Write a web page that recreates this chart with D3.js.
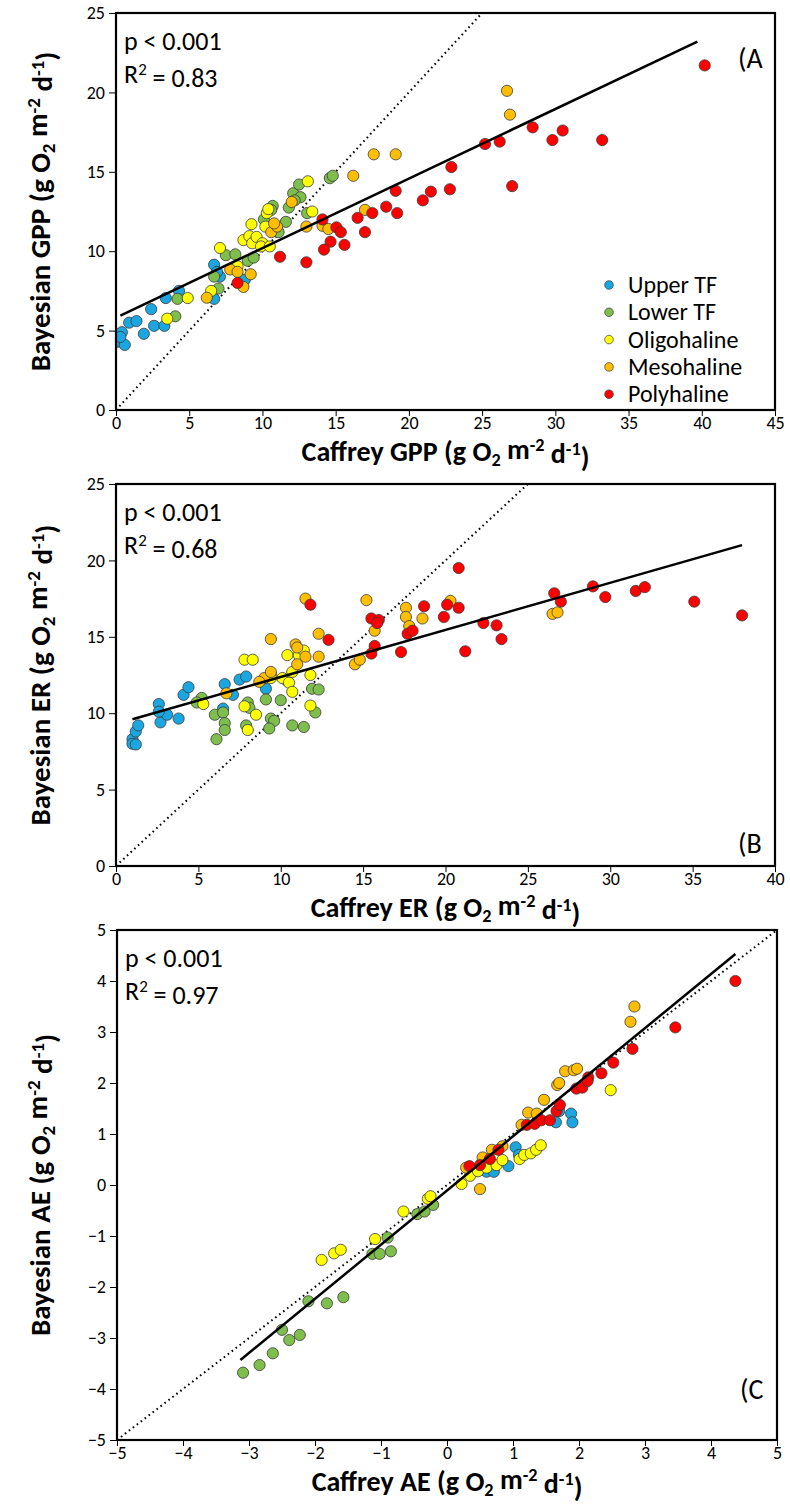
<!DOCTYPE html>
<html><head><meta charset="utf-8">
<script src="https://cdn.jsdelivr.net/npm/d3@7"></script>
<style>
body{margin:0;background:#fff}
text{font-family:Carlito,Calibri,Lato,"Open Sans",sans-serif;fill:#000}
</style>
</head><body>
<svg id="chart" width="790" height="1505"></svg>
<script>
// ---------- DATA ----------
const groups = ["Upper TF","Lower TF","Oligohaline","Mesohaline","Polyhaline"];
const fills  = ["#1AA7E1","#7DBE4C","#FFFF00","#FFBF00","#FF0000"];

const gppUpper = [[0.1,4.3],[0.4,4.9],[0.6,4.1],[0.3,4.6],[0.9,5.5],[1.4,5.6],[1.9,4.8],[2.4,6.35],[2.6,5.3],[3.3,5.3],[3.4,7.05],[4.3,7.5],[6.7,7.0],[6.7,9.15],[7.1,8.4],[8.8,8.2],[6.9,8.7]];
const gppLower = [[4.2,7.0],[4.05,5.9],[7.0,7.65],[6.7,8.4],[7.5,9.75],[8.15,9.8],[9.0,9.4],[9.4,9.6],[10.1,12.0],[10.7,12.85],[10.6,12.6],[11.6,11.85],[11.8,12.75],[12.1,13.65],[12.5,14.2],[12.6,13.4],[12.2,13.2],[13.05,12.4],[14.6,14.6],[14.8,14.75],[11.1,11.2]];
const gppOligo = [[4.9,7.05],[3.5,5.75],[6.5,7.5],[7.1,10.2],[8.7,10.7],[9.1,10.95],[9.3,10.5],[9.25,11.7],[9.6,10.9],[10.0,10.5],[9.9,10.3],[10.5,10.3],[10.3,12.4],[10.4,12.65],[10.2,11.55],[13.1,14.4],[13.4,12.5],[8.3,9.05]];
const gppMeso  = [[6.2,7.07],[7.8,8.85],[8.3,8.7],[8.7,7.75],[9.2,8.55],[10.6,11.2],[11.0,11.55],[10.8,11.75],[12.0,13.1],[13.0,11.55],[14.1,11.6],[14.5,11.4],[16.2,14.75],[17.6,16.1],[19.1,16.1],[17.0,12.6],[26.7,20.1],[26.9,18.6]];
const gppPoly  = [[8.3,8.0],[11.2,9.65],[13.0,9.3],[14.1,12.0],[15.05,11.5],[15.35,11.2],[14.65,10.6],[14.2,10.1],[15.6,10.4],[16.5,12.1],[17.5,12.4],[17.0,11.2],[18.45,12.8],[19.1,13.8],[19.2,12.4],[20.95,13.2],[21.5,13.75],[22.8,13.9],[22.9,15.3],[25.2,16.75],[26.2,16.9],[27.05,14.1],[28.45,17.8],[29.8,17.0],[30.5,17.6],[33.2,17.0],[40.2,21.7]];
const gppFit   = [[0.3,5.95],[39.7,23.2]];

const erUpper = [[1.0,8.3],[1.0,8.0],[1.2,7.95],[1.2,8.8],[1.35,9.2],[2.6,10.6],[2.7,9.4],[3.1,9.9],[2.6,10.1],[3.8,9.65],[4.1,11.2],[4.4,11.7],[6.5,10.3],[6.6,11.9],[7.1,11.2],[7.5,12.2],[7.9,12.4],[9.1,11.6]];
const erLower = [[5.2,11.0],[4.9,10.7],[6.1,8.3],[6.0,9.9],[6.5,10.05],[6.6,9.35],[6.6,8.9],[8.0,10.7],[8.1,10.35],[7.9,9.2],[9.1,10.9],[9.4,9.65],[9.6,9.5],[9.3,9.0],[10.0,10.85],[10.4,12.1],[10.7,9.2],[11.4,9.1],[11.9,11.6],[12.3,11.55],[12.1,10.05]];
const erOligo = [[5.3,10.6],[7.8,13.5],[8.3,13.5],[7.8,10.45],[8.5,9.9],[8.0,8.9],[9.4,12.55],[9.4,12.3],[10.1,12.3],[10.4,13.8],[10.5,12.0],[10.7,11.4],[10.7,12.7],[11.1,13.8],[11.4,14.1],[11.8,12.5],[11.8,10.5]];
const erMeso  = [[6.7,11.3],[9.0,12.3],[8.7,12.05],[9.4,12.7],[9.4,14.85],[10.9,14.5],[11.0,14.3],[11.0,13.2],[11.5,13.7],[12.3,15.2],[12.3,13.7],[11.5,17.5],[15.2,17.4],[15.7,15.4],[14.5,13.2],[14.8,13.5],[17.6,16.9],[17.6,16.3],[17.8,15.7],[18.6,16.2],[20.3,17.35],[26.5,16.5],[26.8,16.6]];
const erPoly  = [[11.8,17.1],[12.9,14.8],[15.5,16.2],[15.95,16.1],[15.85,15.9],[15.7,14.4],[15.5,13.9],[17.7,15.2],[18.0,15.4],[17.3,14.0],[18.7,17.0],[19.9,16.3],[20.1,17.1],[20.8,19.5],[20.8,16.9],[22.3,15.9],[23.1,15.75],[23.4,14.85],[21.2,14.05],[26.6,17.85],[27.0,17.3],[28.95,18.3],[29.7,17.6],[31.55,18.0],[32.1,18.25],[35.1,17.3],[38.0,16.4]];
const erFit   = [[1.0,9.6],[38.0,21.0]];

const aeUpper = [[0.6,0.26],[0.71,0.26],[0.93,0.37],[1.04,0.74],[1.09,0.59],[1.65,1.23],[1.7,1.45],[1.88,1.4],[1.9,1.23]];
const aeLower = [[-3.09,-3.68],[-2.84,-3.53],[-2.64,-3.30],[-2.5,-2.84],[-2.39,-3.04],[-2.23,-2.94],[-2.1,-2.28],[-1.82,-2.32],[-1.57,-2.2],[-1.13,-1.35],[-1.02,-1.35],[-0.85,-1.3],[-0.9,-1.03],[-0.45,-0.57],[-0.34,-0.52],[-0.21,-0.39]];
const aeOligo = [[-1.9,-1.47],[-1.71,-1.34],[-1.61,-1.27],[-1.09,-1.06],[-0.66,-0.52],[-0.29,-0.27],[-0.25,-0.22],[0.22,0.02],[0.35,0.18],[0.47,0.27],[0.6,0.34],[0.75,0.39],[0.84,0.49],[1.1,0.51],[1.17,0.59],[1.27,0.62],[1.35,0.69],[1.42,0.78],[2.48,1.86]];
const aeMeso  = [[0.5,-0.08],[0.29,0.34],[0.54,0.54],[0.68,0.69],[0.84,0.76],[1.13,1.18],[1.23,1.42],[1.36,1.4],[1.47,1.67],[1.67,1.96],[1.7,2.0],[1.79,2.23],[1.92,2.25],[1.97,2.28],[2.78,3.2],[2.84,3.5]];
const aePoly  = [[0.34,0.37],[0.5,0.39],[0.65,0.51],[0.78,0.69],[1.21,1.18],[1.33,1.2],[1.43,1.27],[1.56,1.27],[1.66,1.45],[1.71,1.57],[1.96,1.89],[2.05,1.91],[2.14,2.11],[2.13,2.04],[2.34,2.19],[2.52,2.4],[2.81,2.67],[3.46,3.09],[4.37,4.0]];
const aeFit   = [[-3.13,-3.43],[4.37,4.53]];

const gppXTicks = [0,5,10,15,20,25,30,35,40,45];
const gppYTicks = [0,5,10,15,20,25];
const erXTicks  = [0,5,10,15,20,25,30,35,40];
const erYTicks  = [0,5,10,15,20,25];
const aeTicks   = [-5,-4,-3,-2,-1,0,1,2,3,4,5];

const panels = [
  {id:"A", series:[gppUpper,gppLower,gppOligo,gppMeso,gppPoly], fit:gppFit, xd:[0,45], yd:[0,25], xt:gppXTicks, yt:gppYTicks,
   var:"GPP", r2:"0.83", box:{l:116,r:775,t:13,b:410}, legend:true, tag:"(A", tagY:d=>d.t+55},
  {id:"B", series:[erUpper,erLower,erOligo,erMeso,erPoly], fit:erFit, xd:[0,40], yd:[0,25], xt:erXTicks, yt:erYTicks,
   var:"ER", r2:"0.68", box:{l:116,r:775,t:484,b:866}, legend:false, tag:"(B", tagY:d=>d.b-13},
  {id:"C", series:[aeUpper,aeLower,aeOligo,aeMeso,aePoly], fit:aeFit, xd:[-5,5], yd:[-5,5], xt:aeTicks, yt:aeTicks,
   var:"AE", r2:"0.97", box:{l:117,r:777,t:930,b:1440}, legend:false, tag:"(C", tagY:(d,y)=>y(-4)+10}
];

const tickFont = 18, titleFont = 28, statFont = 26, legendFont = 24, tagFont = 28;

// ---------- DRAW ----------
const svg = d3.select("#chart");

function unitLabel(sel, prefix){
  sel.append("tspan").text(prefix + " (g O");
  sel.append("tspan").attr("font-size","0.65em").attr("dy","0.25em").text("2");
  sel.append("tspan").attr("dy","-0.25em").text(" m");
  sel.append("tspan").attr("font-size","0.65em").attr("dy","-0.42em").text("-2");
  sel.append("tspan").attr("dy","0.42em").text(" d");
  sel.append("tspan").attr("font-size","0.65em").attr("dy","-0.42em").text("-1");
  sel.append("tspan").attr("dy","0.42em").text(")");
}

panels.forEach(p => {
  const b = p.box;
  const x = d3.scaleLinear().domain(p.xd).range([b.l,b.r]);
  const y = d3.scaleLinear().domain(p.yd).range([b.b,b.t]);
  const g = svg.append("g");

  const clipId = "clip"+p.id;
  svg.append("clipPath").attr("id",clipId).append("rect")
    .attr("x",b.l).attr("y",b.t).attr("width",b.r-b.l).attr("height",b.b-b.t);

  // axes
  const xa = g.append("g").attr("transform",`translate(0,${b.b})`)
    .call(d3.axisBottom(x).tickValues(p.xt).tickSize(6).tickSizeOuter(0).tickPadding(0).tickFormat(d3.format("d")));
  const ya = g.append("g").attr("transform",`translate(${b.l},0)`)
    .call(d3.axisLeft(y).tickValues(p.yt).tickSize(7).tickSizeOuter(0).tickPadding(4).tickFormat(d3.format("d")));
  [xa,ya].forEach(a=>{
    a.select(".domain").remove();
    a.selectAll(".tick line").attr("stroke","#000").attr("stroke-width",1);
    a.selectAll(".tick text").attr("font-size",tickFont).attr("fill","#000")
      .style("font-family",'Carlito,Calibri,Lato,"Open Sans",sans-serif');
  });

  // 1:1 line
  const inner = g.append("g").attr("clip-path",`url(#${clipId})`);
  const lo = Math.max(p.xd[0],p.yd[0]), hi = Math.min(p.xd[1],p.yd[1]);
  inner.append("line").attr("x1",x(lo)).attr("y1",y(lo)).attr("x2",x(hi)).attr("y2",y(hi))
    .attr("stroke","#000").attr("stroke-width",2).attr("stroke-dasharray","1.6,3.4");

  // points
  p.series.forEach((s,i)=>{
    inner.append("g").selectAll("circle").data(s).join("circle")
      .attr("cx",d=>x(d[0])).attr("cy",d=>y(d[1])).attr("r",5.6)
      .attr("fill",fills[i]).attr("stroke","#3a3a3a").attr("stroke-width",0.8);
  });

  // regression line
  inner.append("line").attr("x1",x(p.fit[0][0])).attr("y1",y(p.fit[0][1]))
    .attr("x2",x(p.fit[1][0])).attr("y2",y(p.fit[1][1]))
    .attr("stroke","#000").attr("stroke-width",2.5);

  // frame
  g.append("rect").attr("x",b.l).attr("y",b.t).attr("width",b.r-b.l).attr("height",b.b-b.t)
    .attr("fill","none").attr("stroke","#000").attr("stroke-width",2.2);

  // stats text
  g.append("text").attr("x",b.l+8).attr("y",b.t+37).attr("font-size",statFont).text("p < 0.001");
  const r = g.append("text").attr("x",b.l+8).attr("y",b.t+70).attr("font-size",statFont);
  r.append("tspan").text("R");
  r.append("tspan").attr("font-size","0.65em").attr("dy","-0.45em").text("2");
  r.append("tspan").attr("dy","0.45em").text(" = "+p.r2);

  // panel tag
  g.append("text").attr("x",b.r-37).attr("y",p.tagY(b,y)).attr("font-size",tagFont).text(p.tag);

  // axis titles
  const xt = g.append("text").attr("x",(b.l+b.r)/2).attr("y",b.b+51)
    .attr("text-anchor","middle").attr("font-size",titleFont).attr("font-weight","bold");
  unitLabel(xt,"Caffrey "+p.var);
  const yt = g.append("text").attr("transform",`translate(50,${(b.t+b.b)/2}) rotate(-90)`)
    .attr("text-anchor","middle").attr("font-size",titleFont+1).attr("font-weight","bold");
  unitLabel(yt,"Bayesian "+p.var);

  // legend
  if (p.legend){
    const lg = g.append("g");
    groups.forEach((name,i)=>{
      const ly = b.b - 125 + i*27.3;
      lg.append("circle").attr("cx",b.r-166).attr("cy",ly).attr("r",4.3)
        .attr("fill",fills[i]).attr("stroke","#3a3a3a").attr("stroke-width",0.7);
      lg.append("text").attr("x",b.r-147).attr("y",ly+8).attr("font-size",legendFont).text(name);
    });
  }
});
</script>
</body></html>
